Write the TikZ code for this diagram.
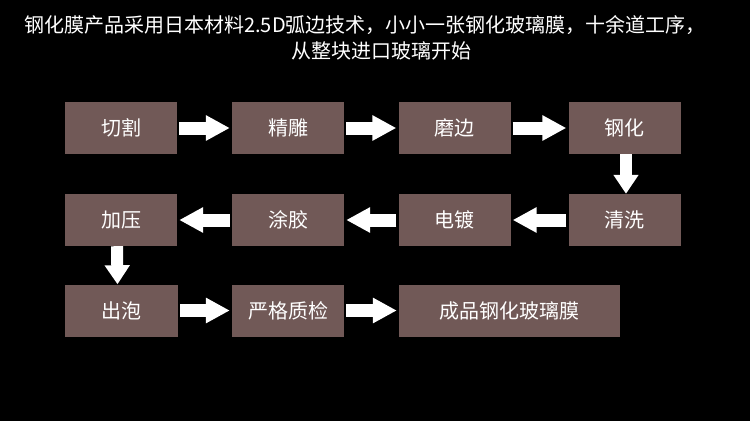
\documentclass[tikz,border=0pt]{standalone}
\usepackage{fontspec}
\setmainfont{Noto Sans CJK SC}
\usetikzlibrary{arrows.meta}
\definecolor{boxbrown}{RGB}{113,89,87}

\begin{document}
\begin{tikzpicture}[x=1pt,y=-1pt,
  stepbox/.style={fill=boxbrown,text=white,minimum width=112pt,minimum height=52pt,inner sep=0pt,font=\fontsize{20}{24}\selectfont},
  blockarrow/.style={white,line width=13pt,-{Triangle[width=24pt,length=24pt]},shorten <=2pt,shorten >=2pt},
  downarrow/.style={white,line width=12pt,-{Triangle[width=24pt,length=19pt]}}]
\fill[black] (0,0) rectangle (750,421);

% title
\node[text=white,font=\fontsize{20}{24}\selectfont] (title1) at (365,25) {钢化膜产品采用日本材料2.5D弧边技术，小小一张钢化玻璃膜，十余道工序，};
\node[text=white,font=\fontsize{20}{24}\selectfont] (title2) at (381,51) {从整块进口玻璃开始};

% first row
\node[stepbox] (qiege) at (121,128) {切割};
\node[stepbox] (jingdiao) at (288,128) {精雕};
\node[stepbox] (mobian) at (454.5,128) {磨边};
\node[stepbox] (ganghua) at (624.5,128) {钢化};

% second row
\node[stepbox] (qingxi) at (624.5,220) {清洗};
\node[stepbox] (diandu) at (454.5,220) {电镀};
\node[stepbox] (tujiao) at (288,220) {涂胶};
\node[stepbox] (jiaya) at (121,220) {加压};

% third row
\node[stepbox,minimum width=113pt] (chupao) at (121.5,310.5) {出泡};
\node[stepbox] (zhijian) at (288,310.5) {严格质检};
\node[stepbox,minimum width=221pt] (chengpin) at (509.5,310.5) {成品钢化玻璃膜};

% arrows
\draw[blockarrow] (qiege) -- (jingdiao);
\draw[blockarrow] (jingdiao) -- (mobian);
\draw[blockarrow] (mobian) -- (ganghua);
\draw[downarrow] ([xshift=1.5pt]ganghua.south) -- ([xshift=1.5pt]qingxi.north);
\draw[blockarrow] (qingxi) -- (diandu);
\draw[blockarrow] (diandu) -- (tujiao);
\draw[blockarrow] (tujiao) -- (jiaya);
\draw[downarrow] ([xshift=-4pt]jiaya.south) -- ([xshift=-4pt]chupao.north);
\draw[blockarrow] (chupao) -- (zhijian);
\draw[blockarrow] (zhijian) -- (chengpin);
\end{tikzpicture}
\end{document}
